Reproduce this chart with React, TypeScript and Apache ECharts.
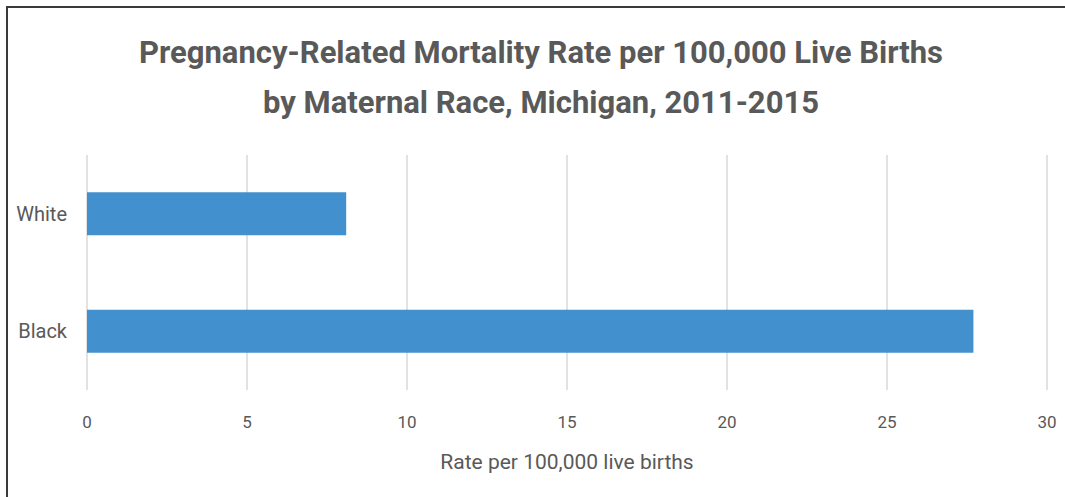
import React, { useEffect, useRef } from "react";
import * as echarts from "echarts";

const categories = ["White", "Black"];
const rates = [8.1, 27.7];
const titleLines = [
  "Pregnancy-Related Mortality Rate per 100,000 Live Births",
  "by Maternal Race, Michigan, 2011-2015",
];
const axisName = "Rate per 100,000 live births";

export default function App() {
  const ref = useRef<HTMLDivElement>(null);
  useEffect(() => {
    if (!ref.current) return;
    const chart = echarts.init(ref.current, undefined, { renderer: "svg" });
    const font = "Roboto";
    chart.setOption({
      animation: false,
      backgroundColor: "transparent",
      title: {
        text: titleLines.join("\n"),
        left: 536,
        top: 22,
        textAlign: "center",
        textStyle: {
          fontFamily: font,
          fontWeight: "bold",
          fontSize: 31,
          lineHeight: 50,
          color: "#595959",
        },
      },
      grid: { left: 87, right: 18, top: 155, bottom: 107 },
      xAxis: {
        type: "value",
        min: 0,
        max: 30,
        interval: 5,
        name: axisName,
        nameLocation: "middle",
        nameGap: 61,
        nameTextStyle: { fontFamily: font, fontSize: 21, color: "#595959" },
        axisLine: { show: false },
        axisTick: { show: false },
        axisLabel: { fontFamily: font, fontSize: 17, color: "#595959", margin: 23 },
        splitLine: { show: true, lineStyle: { color: "#d9d9d9", width: 1.5 } },
      },
      yAxis: {
        type: "category",
        data: categories,
        inverse: true,
        axisLine: { show: false },
        axisTick: { show: false },
        axisLabel: { fontFamily: font, fontSize: 20, color: "#595959", margin: 20 },
      },
      series: [
        {
          type: "bar",
          data: rates,
          barWidth: 43,
          itemStyle: { color: "#4291ce" },
        },
      ],
    });
    return () => chart.dispose();
  }, []);
  return (
    <div
      style={{
        position: "fixed",
        left: 0,
        top: 0,
        width: 1065,
        height: 497,
        overflow: "hidden",
        background: "#fff",
      }}
    >
      <div
        style={{
          position: "absolute",
          left: 6,
          top: 6,
          width: 1200,
          height: 600,
          borderTop: "2px solid #3a3a3a",
          borderLeft: "2px solid #3a3a3a",
        }}
      />
      <div ref={ref} style={{ position: "absolute", left: 0, top: 0, width: 1065, height: 497 }} />
    </div>
  );
}
